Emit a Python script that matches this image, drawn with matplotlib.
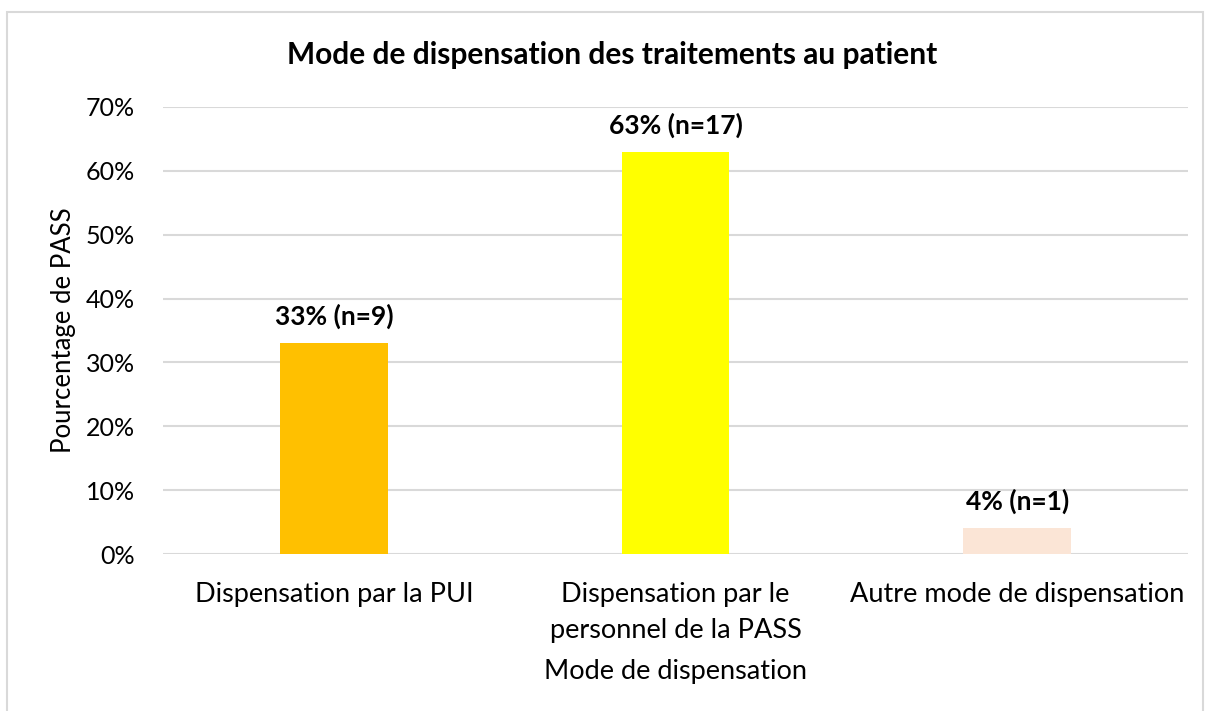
import numpy as np
import matplotlib
matplotlib.use('Agg')
import matplotlib.pyplot as plt
from matplotlib.patches import Rectangle
from matplotlib.ticker import PercentFormatter

# donnees
categories = ['Dispensation par la PUI', 'Dispensation par le\npersonnel de la PASS', 'Autre mode de dispensation']
pourcentages = [33, 63, 4]
effectifs = [9, 17, 1]
couleurs = ['#FFC000', '#FFFF00', '#FBE5D6']

plt.rcParams['font.family'] = ['Lato', 'DejaVu Sans']

fig = plt.figure(figsize=(12.13, 7.11), dpi=100)
ax = fig.add_axes([163/1213, 1 - 554/711, (1188-163)/1213, (554-107)/711])

x = np.arange(len(categories))
ax.bar(x, pourcentages, width=0.316, color=couleurs, zorder=3)

for xi, p, n in zip(x, pourcentages, effectifs):
    ax.text(xi, p + 2.2, '%d%% (n=%d)' % (p, n), ha='center', va='bottom',
            fontsize=19, fontweight='bold', zorder=4)

ax.set_xlim(-0.5, 2.5)
ax.set_ylim(0, 70)
ax.set_yticks(np.arange(0, 71, 10))
ax.yaxis.set_major_formatter(PercentFormatter(decimals=0))
ax.set_xticks(x)
ax.set_xticklabels(categories, fontsize=19.5, linespacing=1.55)
ax.tick_params(axis='y', labelsize=18, length=0, pad=20)
ax.tick_params(axis='x', length=0, pad=20)
ax.grid(axis='y', color='#D9D9D9', linewidth=1.5, zorder=0)
for s in ax.spines.values():
    s.set_visible(False)

ax.set_ylabel('Pourcentage de PASS', fontsize=18.5, labelpad=7)
ax.set_xlabel('Mode de dispensation', fontsize=19.5, labelpad=12)
fig.text(612/1213, 1 - 55/711, 'Mode de dispensation des traitements au patient',
         ha='center', va='center', fontsize=21.5, fontweight='bold')

# cadre
fig.patches.append(Rectangle((7/1213, -0.01), (1203-7)/1213, 1 - 12/711 + 0.01,
                             transform=fig.transFigure, fill=False,
                             edgecolor='#D9D9D9', linewidth=1.5))

fig.savefig('out.png', dpi=100)
